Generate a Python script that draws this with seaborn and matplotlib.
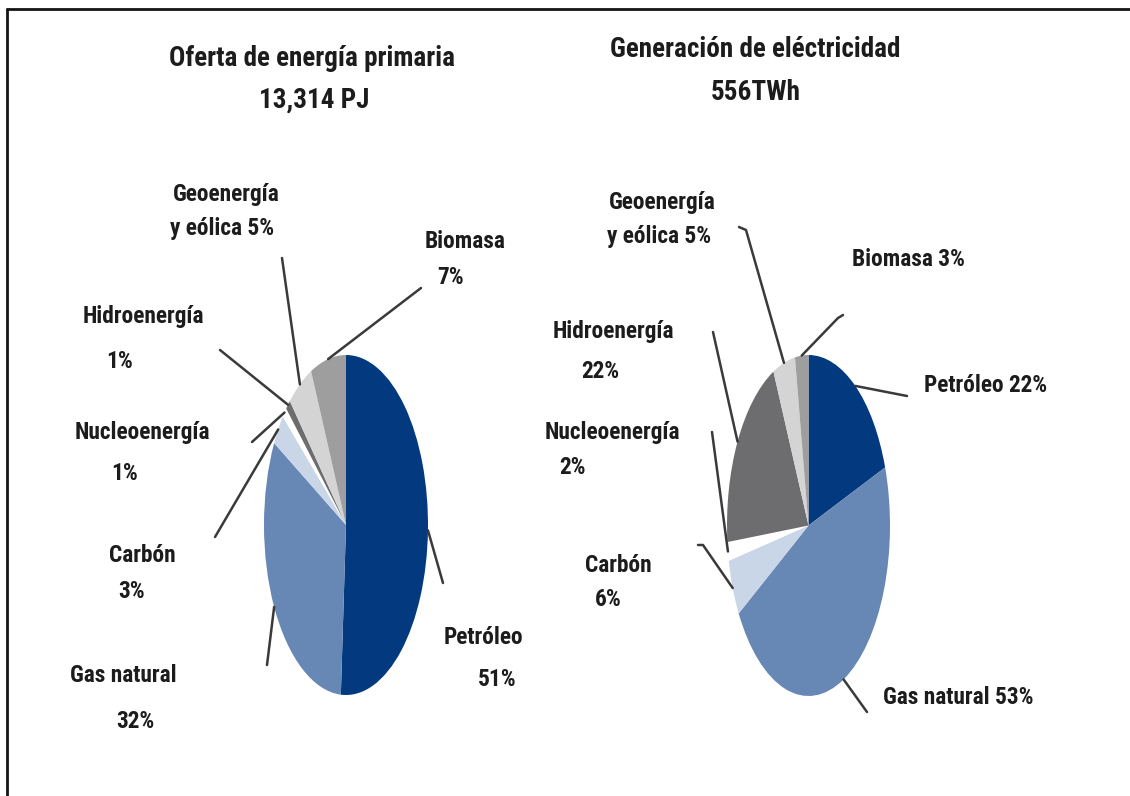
import numpy as np
import matplotlib
matplotlib.use("Agg")
import matplotlib.pyplot as plt
from matplotlib import font_manager as fm
from matplotlib.lines import Line2D
import seaborn as sns

# ---- data ----
categorias = ["Petróleo", "Gas natural", "Carbón", "Nucleoenergía",
              "Hidroenergía", "Geoenergía y eólica", "Biomasa"]
oferta_pct = [51, 32, 3, 1, 1, 5, 7]
generacion_pct = [22, 53, 6, 2, 22, 5, 3]
titulo_oferta = ["Oferta de energía primaria", "13,314 PJ"]
titulo_generacion = ["Generación de eléctricidad", "556TWh"]

# ---- style ----
colores = ["#033A7F", "#6787B4", "#C9D6E8", "#FFFFFF",
           "#6D6D6F", "#D4D4D4", "#9E9E9E"]
texto_color = "#1C1C1C"
linea_color = "#3A3A3A"

W, H = 1130, 796
sns.set_theme(style="white")
disponibles = {f.name for f in fm.fontManager.ttflist}
familia = next((f for f in ["Liberation Sans Narrow", "DejaVu Sans Condensed",
                            "Roboto Condensed", "Lato"] if f in disponibles),
               "DejaVu Sans")
plt.rcParams["font.family"] = [familia, "DejaVu Sans"]

fig = plt.figure(figsize=(W / 100, H / 100), dpi=100)
fig.patch.set_facecolor("white")

# Per-pie layout: pixel centre/radii, label placement (words per line, x, y),
# and leader-line end points (pixels, measured from the top-left corner).
layouts = [
    dict(valores=oferta_pct, titulo=titulo_oferta,
         cx=346, cy=525, rx=82, ry=170,
         titulo_pos=[(312, 58), (314, 100)],
         etiquetas=[
             [(1, 483, 638), (1, 497, 680)],
             [(2, 123, 675), (1, 135, 722)],
             [(1, 142, 555), (1, 132, 592)],
             [(1, 142, 432), (1, 125, 473)],
             [(1, 143, 317), (1, 120, 362)],
             [(1, 226, 195), (3, 222, 228)],
             [(1, 465, 242), (1, 451, 277)],
         ],
         guias=[
             [(443, 583)],
             [(267, 665)],
             [(215, 537)],
             [(252, 442)],
             [(220, 350)],
             [(282, 258)],
             [(421, 288)],
         ]),
    dict(valores=generacion_pct, titulo=titulo_generacion,
         cx=808.5, cy=525.5, rx=81.5, ry=170.5,
         titulo_pos=[(755, 50), (756, 92)],
         etiquetas=[
             [(2, 986, 385)],
             [(3, 958, 698)],
             [(1, 618, 565), (1, 608, 600)],
             [(1, 612, 432), (1, 573, 467)],
             [(1, 613, 332), (1, 600, 372)],
             [(1, 662, 202), (3, 659, 237)],
             [(2, 908, 259)],
         ],
         guias=[
             [(907, 396)],
             [(867, 712)],
             [(703, 545), (698, 545)],
             [(712, 432)],
             [(713, 332)],
             [(746, 230), (739, 227)],
             [(838, 318), (843, 315)],
         ]),
]

for lay in layouts:
    cx, cy, rx, ry = lay["cx"], lay["cy"], lay["rx"], lay["ry"]

    def to_data(px, py, cx=cx, cy=cy, rx=rx, ry=ry):
        return (px - cx) / rx, (cy - py) / ry

    ax = fig.add_axes([0, 0, 1, 1])
    wedges, _ = ax.pie(lay["valores"], colors=colores, startangle=90,
                       counterclock=False, radius=1.0,
                       wedgeprops=dict(linewidth=0, antialiased=True))
    ax.set_aspect("auto")
    ax.set_xlim(-cx / rx, (W - cx) / rx)
    ax.set_ylim(-(H - cy) / ry, cy / ry)
    ax.axis("off")
    ax.patch.set_visible(False)

    # leader lines from the middle of each wedge's arc
    for w, guia in zip(wedges, lay["guias"]):
        ang = np.deg2rad((w.theta1 + w.theta2) / 2)
        xs = [np.cos(ang)]
        ys = [np.sin(ang)]
        for px, py in guia:
            dx, dy = to_data(px, py)
            xs.append(dx)
            ys.append(dy)
        ax.plot(xs, ys, color=linea_color, lw=1.8, solid_capstyle="round",
                zorder=3)

    # slice labels
    for nombre, v, lineas in zip(categorias, lay["valores"], lay["etiquetas"]):
        palabras = f"{nombre} {v}%".split()
        i = 0
        for nw, px, py in lineas:
            s = " ".join(palabras[i:i + nw])
            i += nw
            x, y = to_data(px, py)
            ax.text(x, y, s, ha="center", va="center", fontsize=16.8,
                    fontweight="bold", color=texto_color)

    # titles
    for s, (px, py) in zip(lay["titulo"], lay["titulo_pos"]):
        x, y = to_data(px, py)
        ax.text(x, y, s, ha="center", va="center", fontsize=19.5,
                fontweight="bold", color=texto_color)

# frame on the top and left edges
fig.add_artist(Line2D([7 / W, 1], [1 - 9 / H, 1 - 9 / H],
                      transform=fig.transFigure, color="#141414", lw=2.0))
fig.add_artist(Line2D([7 / W, 7 / W], [1 - 9 / H, 0],
                      transform=fig.transFigure, color="#141414", lw=2.0))

fig.savefig("out.png", dpi=100, facecolor="white")
